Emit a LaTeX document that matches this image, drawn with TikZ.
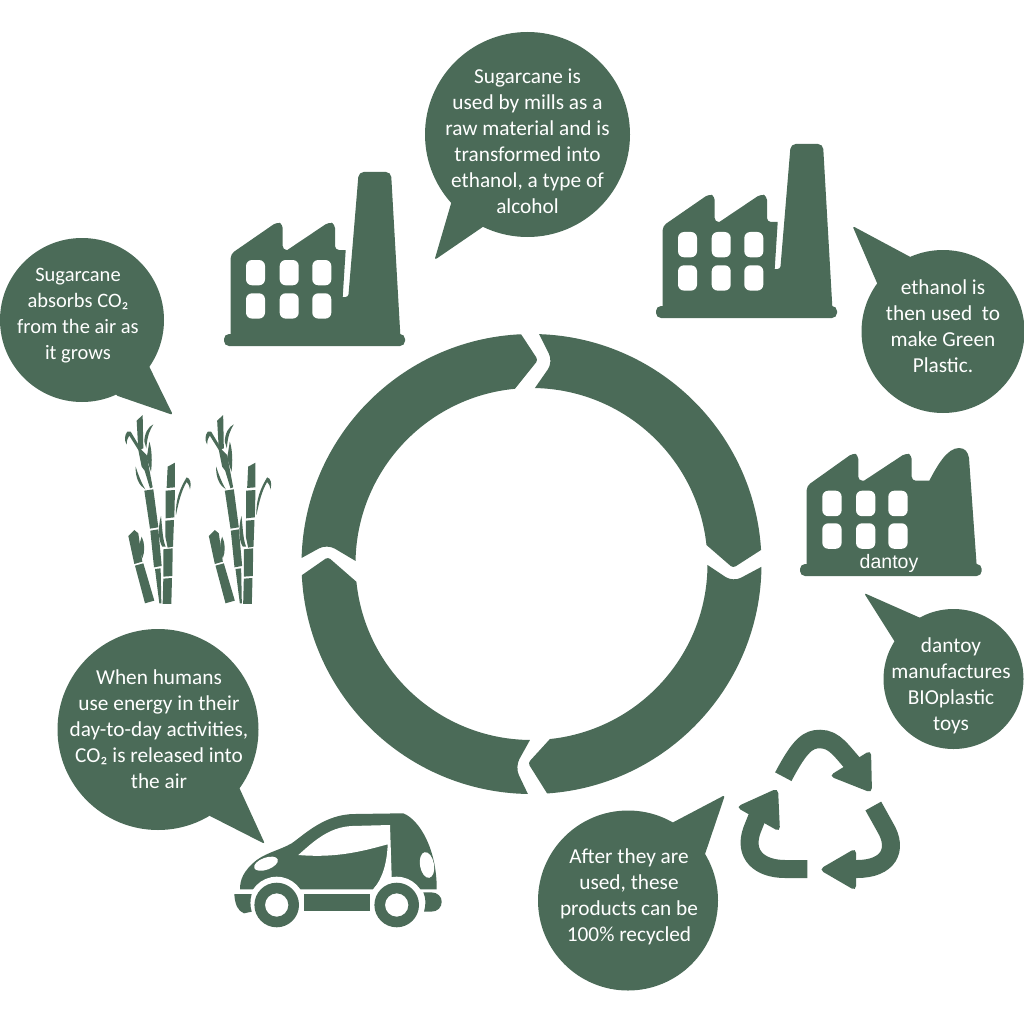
\documentclass[tikz,border=0pt]{standalone}
\usepackage{fontspec}
\usetikzlibrary{calc}
\setmainfont{Carlito}
\definecolor{gr}{HTML}{4B6B58}
\tikzset{
  txt/.style={text=white,align=center,inner sep=0pt,font=\fontsize{21.3}{26}\selectfont},
  tailp/.style={fill=gr,rounded corners=2.5pt},
  win/.style={fill=white,rounded corners=6pt},
  factory/.pic={
    \fill[gr,rounded corners=5pt] (224,334) rectangle (405,346);
    \fill[gr,rounded corners=4pt] (230.7,338) -- (230.7,254) -- (277,222) -- (282.7,224) -- (282.7,250) [sharp corners] -- (287.3,250) [rounded corners=4pt] -- (329,222) -- (335,224) -- (335,250) [sharp corners] -- (345.7,250) -- (342.7,297) [rounded corners=2.7pt] -- (348.3,297) [rounded corners=5pt] -- (358.7,172) -- (391,172) [sharp corners] -- (400.5,338) -- cycle;
    \foreach \x in {246,279.7,312.3}{
      \foreach \y in {260,293.3}{
        \fill[win] (\x,\y) rectangle (\x+19,\y+25.3);
      }
    }
  },
  cane/.pic={
    \begin{scope}[shift={(100,400)},x=0.3333pt,y=-0.3333pt]
    \fill[gr] (133,272)--(160,268)--(175,382)--(150,386)--cycle;
    \fill[gr] (151,392)--(175,388)--(185,498)--(162,502)--cycle;
    \fill[gr] (165,507)--(182,505)--(184,610)--(178,610)--cycle;
    \fill[gr] (203,200)--(225,188)--(225,262)--(200,264)--cycle;
    \fill[gr] (197,272)--(225,270)--(223,352)--(197,355)--cycle;
    \fill[gr] (196,362)--(222,360)--(219,440)--(203,443)--(196,410)--cycle;
    \fill[gr] (190,448)--(218,445)--(217,528)--(190,530)--cycle;
    \fill[gr] (190,536)--(216,534)--(214,612)--(188,612)--cycle;
    \fill[gr] (85,408)--(103,390)--(115,400)--(127,485)--(103,492)--cycle;
    \fill[gr] (105,497)--(130,490)--(163,602)--(135,610)--cycle;
    \fill[gr] (125,410) .. controls (135,430) and (135,455) .. (127,475) .. controls (118,455) and (116,430) .. (125,410) -- cycle;
    \fill[gr] (183,348) .. controls (174,380) and (174,420) .. (187,440) -- (197,440) .. controls (188,420) and (187,385) .. (183,348) -- cycle;
    \fill[gr] (228,345) .. controls (226,300) and (240,265) .. (260,232) .. controls (271,235) and (275,250) .. (270,268) .. controls (268,257) and (265,250) .. (260,246) .. controls (245,270) and (236,305) .. (228,345) -- cycle;
    \fill[gr] (110,62)--(128,45)--(130,145)--(115,150)--cycle;
    \fill[gr] (82,95) .. controls (74,105) and (72,120) .. (80,134) .. controls (80,122) and (83,112) .. (88,107) -- (115,150) -- (125,200) -- (134,212) -- (150,265) -- (158,262) -- (140,165) -- (125,150) -- (92,95) -- cycle;
    \fill[gr] (133,125) .. controls (133,100) and (145,80) .. (160,73) .. controls (150,90) and (142,105) .. (139,145) -- cycle;
    \fill[gr] (148,125) .. controls (156,150) and (157,185) .. (153,215) -- (140,175) -- cycle;
    \fill[gr] (107,200) .. controls (115,225) and (125,250) .. (136,268) .. controls (118,257) and (106,235) .. (107,200) -- cycle;
    \end{scope}
  }
}
\begin{document}
\begin{tikzpicture}[x=1pt,y=-1pt]
\useasboundingbox (0,0) rectangle (1024,1024);
% ring
\coordinate (c) at (531.5,564);
\fill[gr] ($(c)+(-88.1:230)$) arc[start angle=-88.1,end angle=-3.5,radius=230] [rounded corners=3pt] -- (733,568) [sharp corners] -- ($(c)+(-6.2:176)$) arc[start angle=-6.2,end angle=-88.9,radius=176] [rounded corners=9pt] -- (553,362) [sharp corners] -- cycle;
\fill[gr] ($(c)+(0.7:230)$) arc[start angle=0.7,end angle=86.1,radius=230] [rounded corners=3pt] -- (528,763) [sharp corners] -- ($(c)+(84:176)$) arc[start angle=84,end angle=0.3,radius=176] [rounded corners=9pt] -- (733,582) [sharp corners] -- cycle;
\fill[gr] ($(c)+(90.9:230)$) arc[start angle=90.9,end angle=177.2,radius=230] [rounded corners=3pt] -- (328,557) [sharp corners] -- ($(c)+(174.2:176)$) arc[start angle=174.2,end angle=90.5,radius=176] [rounded corners=9pt] -- (515,767) [sharp corners] -- cycle;
\fill[gr] ($(c)+(181.5:230)$) arc[start angle=181.5,end angle=267.4,radius=230] [rounded corners=3pt] -- (538,360) [sharp corners] -- ($(c)+(264.6:176)$) arc[start angle=264.6,end angle=181,radius=176] [rounded corners=9pt] -- (327,544) [sharp corners] -- cycle;
% bubbles
\fill[gr] (527.5,134.5) circle[radius=102.5];
\fill[tailp] (455,190) -- (434.5,260) -- (490,222) -- cycle;
\fill[gr] (943,331.5) circle[radius=81.5];
\fill[tailp] (880,290) -- (852.5,226) -- (916,260) -- cycle;
\fill[gr] (953.5,679) circle[radius=70];
\fill[tailp] (900,650) -- (864,593) -- (925,620) -- cycle;
\fill[gr] (628,900.5) circle[radius=90];
\fill[tailp] (668,825) -- (725,795) -- (703,860) -- cycle;
\fill[gr] (158,729.5) circle[radius=100.5];
\fill[tailp] (208,815) -- (265,844) -- (238,785) -- cycle;
\fill[gr] (82,320) circle[radius=82];
\fill[tailp] (115,395) -- (173,415) -- (146,360) -- cycle;
% factories
\pic {factory};
\pic at (432,-28) {factory};
% third factory
\fill[gr,rounded corners=5pt] (800,564) rectangle (981.7,576);
\fill[gr,rounded corners=4pt] (806.7,566) -- (806.7,486) -- (853,453) -- (858.3,455) -- (858.3,480.7) [sharp corners] -- (864,480.7) [rounded corners=4pt] -- (906,453) -- (911.7,455) -- (911.7,480.7) [sharp corners] -- (929.3,480.7) .. controls (937,466) and (947,448) .. (959,448) .. controls (965,448) and (968,452) .. (969,458) -- (976.7,566) -- cycle;
\foreach \x in {822.3,856,888.3}{
  \foreach \y in {490.7,523.3}{
    \fill[win] (\x,\y) rectangle (\x+19.3,\y+25.5);
  }
}
\node[text=white,inner sep=0pt,font={\fontspec{Liberation Sans}\fontsize{19.5}{20}\selectfont}] (dantoylabel) at (889,563.5) {dantoy};
% sugarcane
\pic {cane};
\pic at (80.5,0) {cane};
% car
\fill[gr] (240,889.3) .. controls (240,880) and (243,871) .. (256.7,860) .. controls (268,852) and (280,850) .. (291.7,843.3) .. controls (305,834) and (325,814) .. (355,814) -- (403.3,813.3) .. controls (420,820) and (437,850) .. (436.7,889.3) -- cycle;
\fill[white] (298.3,855) .. controls (312,843) and (328,827) .. (352,826) -- (390,825) -- (391.8,880) -- (373.3,889.3) .. controls (383,878) and (387,862) .. (387.7,844.3) .. controls (360,852) and (335,858) .. (298.3,855) -- cycle;
\fill[white] (276.7,905) circle[radius=28.3];
\fill[white] (396.7,905) circle[radius=28.3];
\fill[white] (230,890.2) rectangle (446,925);
\fill[white,rotate around={20:(266,863.7)}] (266,863.7) ellipse[x radius=12.5,y radius=6];
\fill[white,rotate around={10:(427,865)}] (427,865) ellipse[x radius=7,y radius=13];
\fill[gr,even odd rule] (276.7,905) circle[radius=22.3] (276.7,905) circle[radius=11.7];
\fill[gr,even odd rule] (396.7,905) circle[radius=22.3] (396.7,905) circle[radius=11.7];
\fill[gr] (304.3,894) rectangle (370,910.7);
\fill[gr] (234.3,894) -- (251.7,894) .. controls (250,900) and (250,906) .. (251.7,911.7) -- (244,913.3) .. controls (238,911) and (235,905) .. (234.3,894) -- cycle;
\fill[gr] (423.3,892.3) -- (431,892.3) .. controls (438,892.3) and (441.7,897) .. (441.7,901.7) .. controls (441.7,907) and (438,911.7) .. (431,911.7) -- (424,911.7) .. controls (426,905) and (426,898) .. (423.3,892.3) -- cycle;
% recycle
\draw[gr,line width=18.5pt] (783.3,776.7) .. controls (800,745) and (808,739) .. (820,739) .. controls (835,739) and (842,752) .. (855,766);
\fill[gr,rounded corners=5pt] (829,776) -- (871,750) -- (872,793) -- cycle;
\draw[gr,line width=18pt] (807.3,869) -- (785,869) .. controls (760,869) and (743,855) .. (752,830) -- (758,815);
\fill[gr,rounded corners=5pt] (736,807) -- (778,788) -- (780,832) -- cycle;
\draw[gr,line width=18pt] (873.3,806) -- (885,827) .. controls (899,850) and (888,869) .. (857,869) -- (850,869);
\fill[gr,rounded corners=5pt] (819,869.5) -- (856,848) -- (856,891) -- cycle;
% texts
\node[txt] (t1) at (527.5,141) {Sugarcane is\\used by mills as a\\raw material and is\\transformed into\\ethanol, a type of\\alcohol};
\node[txt] (t2) at (943,326) {ethanol is\\then used\ \ to\\make Green\\Plastic.};
\node[txt] (t3) at (951,686) {dantoy\\manufactures\\BIOplastic\\toys};
\node[txt] (t4) at (629,897) {After they are\\used, these\\products can be\\100\% recycled};
\node[txt] (t5) at (159,729) {When humans\\use energy in their\\day-to-day activities,\\CO₂ is released into\\the air};
\node[txt,font=\fontsize{20.5}{26}\selectfont] (t6) at (78,316) {Sugarcane\\absorbs CO₂\\from the air as\\it grows};
\end{tikzpicture}
\end{document}
